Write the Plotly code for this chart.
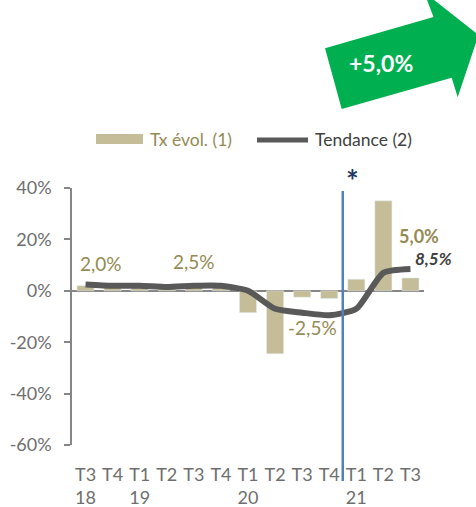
import plotly.graph_objects as go

# ---- data ----
quarters = ["T3", "T4", "T1", "T2", "T3", "T4", "T1", "T2", "T3", "T4", "T1", "T2", "T3"]
years = ["18", "", "19", "", "", "", "20", "", "", "", "21", "", ""]
tx_evol = [2.0, 1.5, 1.5, 1.0, 2.5, 2.0, -8.5, -24.5, -2.5, -3.0, 4.5, 35.0, 5.0]
tendance = [2.5, 2.0, 2.0, 1.5, 2.0, 2.0, 0.0, -7.0, -8.5, -9.5, -7.0, 7.0, 8.5]
y_ticks = [-60, -40, -20, 0, 20, 40]

W, H = 476, 507
ML, MR, MT, MB = 72, 52, 188, 62
PW, PH = W - ML - MR, H - MT - MB

def px(x):
    return (x - ML) / PW

def py(y):
    return (H - MB - y) / PH

FONT = "Lato"
BAR_C = "#C4BD97"
OLIVE = "#948A54"
LINE_C = "#595959"
TICK_C = "#6E6E6E"

xs = list(range(len(quarters)))
ticktext = [q + ("<br>" + y if y else "") for q, y in zip(quarters, years)]

fig = go.Figure()
fig.add_trace(go.Bar(x=xs, y=tx_evol, marker_color=BAR_C, width=0.63, name="Tx évol. (1)"))
fig.add_trace(go.Scatter(x=xs, y=tendance, mode="lines", name="Tendance (2)",
                         line=dict(color=LINE_C, width=6, shape="spline", smoothing=0.6)))

fig.update_layout(
    width=W, height=H, margin=dict(l=ML, r=MR, t=MT, b=MB, autoexpand=False),
    plot_bgcolor="white", paper_bgcolor="white", showlegend=False,
    font=dict(family=FONT, size=18, color=TICK_C),
)
fig.update_xaxes(range=[-0.5, 12.5], tickvals=xs, ticktext=ticktext, showgrid=False,
                 showline=False, ticks="", tickfont=dict(size=18, color=TICK_C),
                 ticklabelstandoff=17, zeroline=False, automargin=False)
fig.update_yaxes(range=[-60, 40], tickvals=y_ticks, ticktext=[f"{v}%" for v in y_ticks],
                 showgrid=False, showline=True, linecolor="#868686", linewidth=1.5,
                 ticks="outside", ticklen=6, tickcolor="#868686", tickwidth=1.5,
                 zeroline=True, zerolinecolor="#868686", zerolinewidth=1.5,
                 tickfont=dict(size=18, color=TICK_C), ticklabelstandoff=9, automargin=False)

def note(xp, yp, text, size, color, xanchor="center"):
    fig.add_annotation(xref="paper", yref="paper", x=px(xp), y=py(yp), text=text,
                       xanchor=xanchor, yanchor="middle", showarrow=False,
                       font=dict(size=size, color=color, family=FONT))

# vertical separator between T4 20 and T1 21
fig.add_shape(type="line", xref="x", yref="paper", x0=9.5, x1=9.5, y0=py(481), y1=py(191),
              line=dict(color="#4F81BD", width=2.5))
note(352, 180, "<b>*</b>", 30, "#1F3864")

# data labels
labels = [
    (101, 263, "2,0%", 19, OLIVE),
    (194, 261, "2,5%", 19, OLIVE),
    (312, 327, "-2,5%", 19, OLIVE),
    (419, 236, "<b>5,0%</b>", 18, OLIVE),
    (433, 258, "<b><i>8,5%</i></b>", 17, "#404040"),
]
for x, y, t, s, c in labels:
    note(x, y, t, s, c)

# legend (manual)
fig.add_shape(type="rect", xref="paper", yref="paper", x0=px(96), x1=px(143), y0=py(144), y1=py(134),
              fillcolor=BAR_C, line_width=0)
note(148, 139, "Tx évol. (1)", 17.5, OLIVE, "left")
fig.add_shape(type="line", xref="paper", yref="paper", x0=px(257), x1=px(308), y0=py(140), y1=py(140),
              line=dict(color=LINE_C, width=5))
note(313, 139, "Tendance (2)", 17.5, "#404040", "left")

# green arrow with +5,0%
arrow = [(341.7, 109), (325, 48.3), (433.5, 17), (424, -8), (478.5, 35), (457.7, 97.3), (451.7, 77.7)]
path = "M " + " L ".join(f"{px(a):.4f},{py(b):.4f}" for a, b in arrow) + " Z"
fig.add_shape(type="path", xref="paper", yref="paper", path=path, fillcolor="#00B050", line_width=0)
note(381, 63, "<b>+5,0%</b>", 23, "white")

fig.write_html("out.html", config={"displayModeBar": False},
               post_script="document.body.style.margin='0px';")
